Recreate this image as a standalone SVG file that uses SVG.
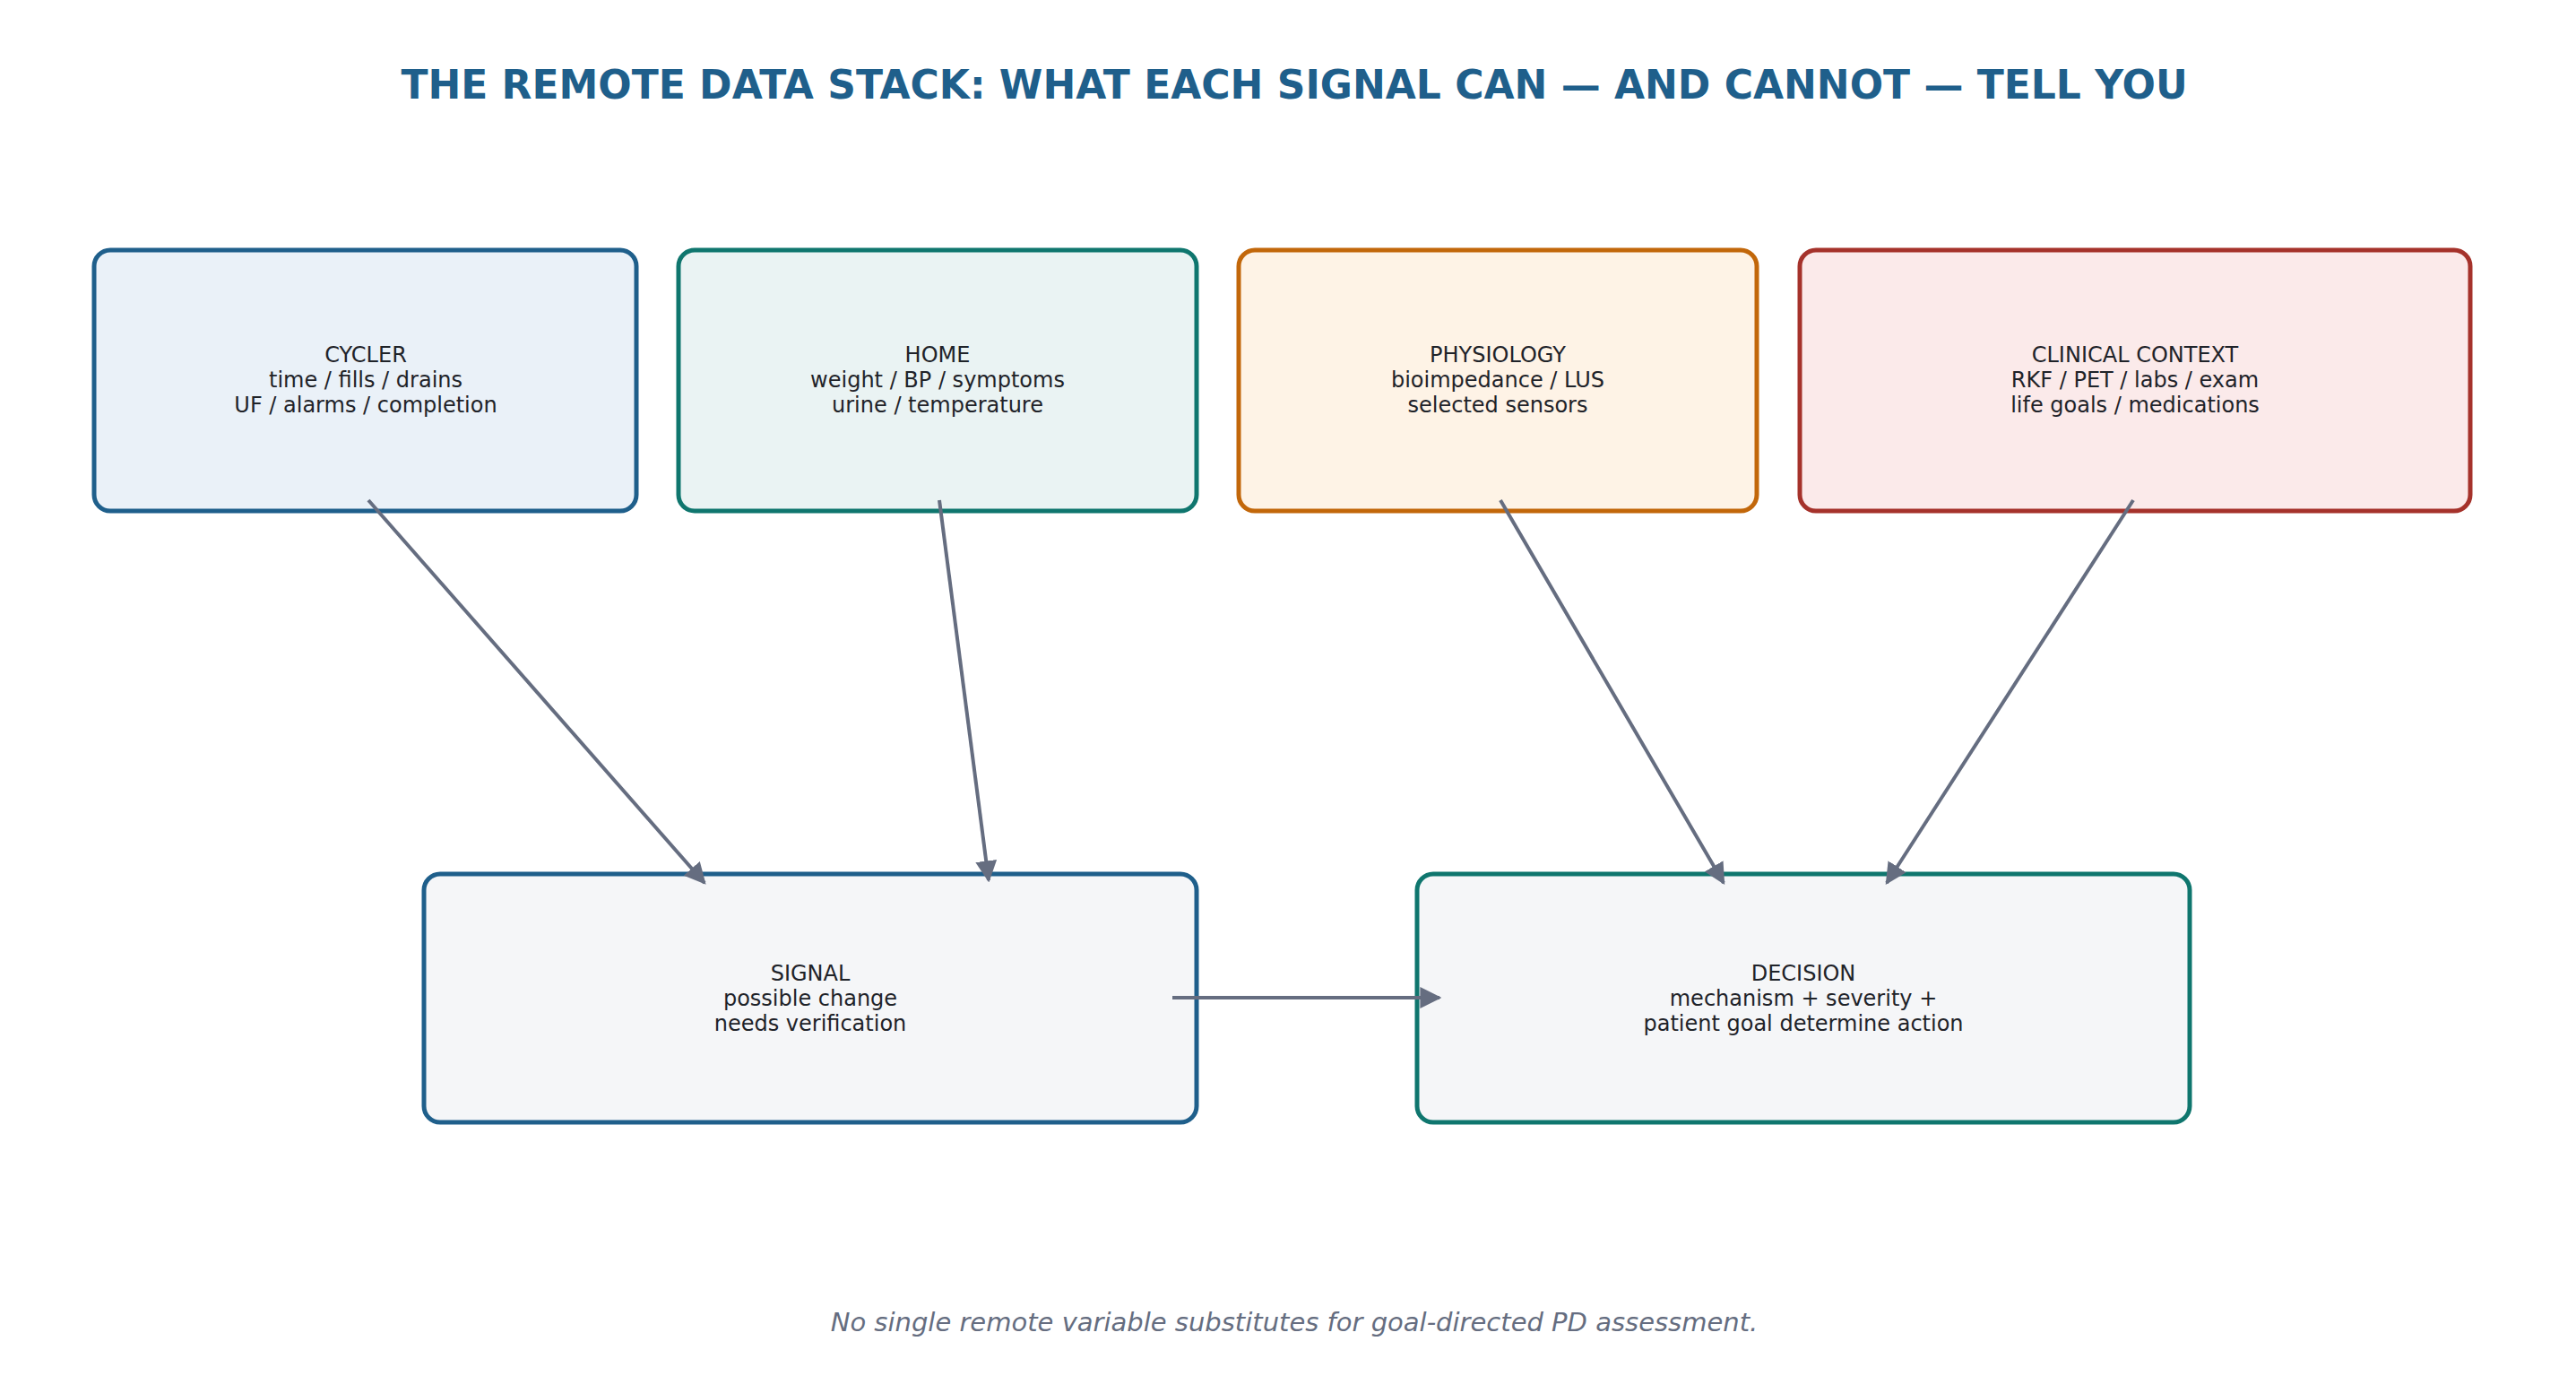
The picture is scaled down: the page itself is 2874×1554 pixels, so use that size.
<svg xmlns="http://www.w3.org/2000/svg" width="2874" height="1554" viewBox="0 0 2874 1554">
<defs>
<marker id="ah" viewBox="0 0 10 10" refX="9" refY="5" markerWidth="6" markerHeight="6" orient="auto" markerUnits="strokeWidth"><path d="M0,0 L10,5 L0,10 z" fill="#656d80"/></marker>
</defs>
<style>
text{font-family:"DejaVu Sans",sans-serif}
.t{font-size:44px;font-weight:bold;fill:#1f5f8b;text-anchor:middle}
.l{font-size:24px;fill:#1f2329;text-anchor:middle}
.f{font-size:29px;font-style:italic;fill:#656d80;text-anchor:middle}
rect{stroke-width:5}
.c line{stroke:#656d80;stroke-width:4;marker-end:url(#ah)}
</style>
<rect width="2874" height="1554" fill="#fff"/>
<text class="t" x="1444" y="110">THE REMOTE DATA STACK: WHAT EACH SIGNAL CAN — AND CANNOT — TELL YOU</text>
<g id="cycler"><rect x="105" y="279" width="605" height="291" rx="18" fill="#eaf1f8" stroke="#1f5f8b"/>
<text class="l" x="408" y="404">CYCLER</text><text class="l" x="408" y="432">time / fills / drains</text><text class="l" x="408" y="460">UF / alarms / completion</text></g>
<g id="home"><rect x="757" y="279" width="578" height="291" rx="18" fill="#eaf3f3" stroke="#0f766e"/>
<text class="l" x="1046" y="404">HOME</text><text class="l" x="1046" y="432">weight / BP / symptoms</text><text class="l" x="1046" y="460">urine / temperature</text></g>
<g id="physiology"><rect x="1382" y="279" width="578" height="291" rx="18" fill="#fef3e6" stroke="#c2670a"/>
<text class="l" x="1671" y="404">PHYSIOLOGY</text><text class="l" x="1671" y="432">bioimpedance / LUS</text><text class="l" x="1671" y="460">selected sensors</text></g>
<g id="clinical"><rect x="2008" y="279" width="748" height="291" rx="18" fill="#fbeaea" stroke="#a5322b"/>
<text class="l" x="2382" y="404">CLINICAL CONTEXT</text><text class="l" x="2382" y="432">RKF / PET / labs / exam</text><text class="l" x="2382" y="460">life goals / medications</text></g>
<g id="signal"><rect x="473" y="975" width="862" height="277" rx="18" fill="#f5f6f8" stroke="#1f5f8b"/>
<text class="l" x="904" y="1094">SIGNAL</text><text class="l" x="904" y="1122">possible change</text><text class="l" x="904" y="1150">needs verification</text></g>
<g id="decision"><rect x="1581" y="975" width="862" height="277" rx="18" fill="#f5f6f8" stroke="#0f766e"/>
<text class="l" x="2012" y="1094">DECISION</text><text class="l" x="2012" y="1122">mechanism + severity +</text><text class="l" x="2012" y="1150">patient goal determine action</text></g>
<g id="connectors" class="c">
<line x1="411" y1="558" x2="786" y2="985"/>
<line x1="1048" y1="558" x2="1103" y2="982"/>
<line x1="1674" y1="558" x2="1923" y2="985"/>
<line x1="2380" y1="558" x2="2105" y2="985"/>
<line x1="1308" y1="1113" x2="1606" y2="1113"/>
</g>
<text class="f" x="1444" y="1485">No single remote variable substitutes for goal-directed PD assessment.</text>
</svg>
